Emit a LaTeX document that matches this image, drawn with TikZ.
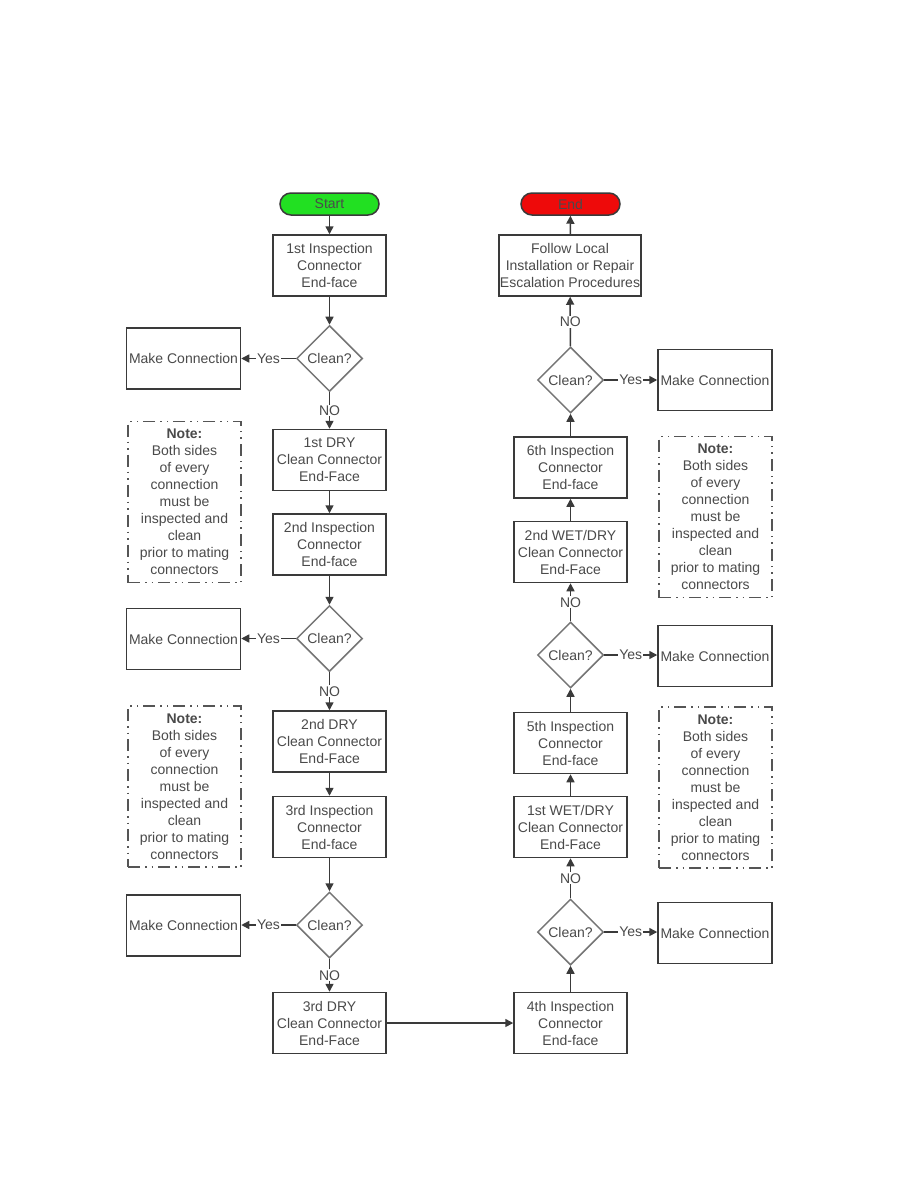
\documentclass[tikz,border=0pt]{standalone}
\usepackage{fontspec}
\setmainfont{Liberation Sans}
\usetikzlibrary{shapes.geometric,arrows.meta}
\definecolor{ln}{HTML}{3A3A3A}
\definecolor{tx}{HTML}{4A4A4A}
\definecolor{startg}{HTML}{22E022}
\definecolor{endr}{HTML}{EE0A0A}
\definecolor{notec}{HTML}{555555}
\tikzset{
  every node/.style={font=\fontsize{14}{17}\selectfont, text=tx},
  box/.style={draw=ln, line width=1.5pt, rectangle, minimum width=113pt, minimum height=61pt, align=center, inner sep=1pt, fill=white},
  widebox/.style={box, minimum width=142pt},
  mkbox/.style={box, minimum width=114pt, minimum height=61pt},
  dia/.style={draw=ln!70, line width=1.5pt, diamond, minimum width=66pt, minimum height=66pt, inner sep=0pt, aspect=1},
  pill/.style={draw=ln, line width=1.5pt, rounded corners=11pt, minimum width=99pt, minimum height=22pt, inner sep=0pt},
  notebox/.style={draw=notec, line width=1.6pt, dash pattern=on 12pt off 5pt on 1.5pt off 5pt on 1.5pt off 5pt, minimum width=113pt, minimum height=161pt, align=center, inner sep=1pt},
  arr/.style={draw=ln, line width=1.5pt, -{Triangle[length=8pt,width=8pt]}},
  lab/.style={fill=white, inner sep=1pt},
}
\newcommand{\notetext}{\textbf{Note:}\\Both sides\\of every\\connection\\must be\\inspected and\\clean\\prior to mating\\connectors}
\begin{document}
\begin{tikzpicture}[x=1pt,y=-1pt]
\useasboundingbox[fill=white] (0,0) rectangle (918,1188);
% left column
\node[pill, fill=startg] (start) at (329.5,204) {Start};
\node[box] (i1) at (329.5,265.5) {1st Inspection\\Connector\\End-face};
\node[dia] (d1) at (329.5,358.5) {Clean?};
\node[mkbox] (m1) at (183.5,358.5) {Make Connection};
\node[box] (c1) at (329.5,460) {1st DRY\\Clean Connector\\End-Face};
\node[box] (i2) at (329.5,544.5) {2nd Inspection\\Connector\\End-face};
\node[dia] (d2) at (329.5,638.5) {Clean?};
\node[mkbox] (m2) at (183.5,639) {Make Connection};
\node[box] (c2) at (329.5,741.5) {2nd DRY\\Clean Connector\\End-Face};
\node[box] (i3) at (329.5,827) {3rd Inspection\\Connector\\End-face};
\node[dia] (d3) at (329.5,925) {Clean?};
\node[mkbox] (m3) at (183.5,925.5) {Make Connection};
\node[box] (c3) at (329.5,1023) {3rd DRY\\Clean Connector\\End-Face};
\node[notebox] (n1) at (184.5,502) {\notetext};
\node[notebox] (n2) at (184.5,786.5) {\notetext};
% right column
\node[pill, fill=endr] (end) at (570.5,204) {End};
\node[widebox] (fl) at (570,265.5) {Follow Local\\Installation or Repair\\Escalation Procedures};
\node[dia] (r1) at (570.5,380) {Clean?};
\node[mkbox] (rm1) at (715,380) {Make Connection};
\node[box] (i6) at (570.5,467.5) {6th Inspection\\Connector\\End-face};
\node[box] (w2) at (570.5,552) {2nd WET/DRY\\Clean Connector\\End-Face};
\node[dia] (r2) at (570.5,655) {Clean?};
\node[mkbox] (rm2) at (715,656) {Make Connection};
\node[box] (i5) at (570.5,743) {5th Inspection\\Connector\\End-face};
\node[box] (w1) at (570.5,827) {1st WET/DRY\\Clean Connector\\End-Face};
\node[dia] (r3) at (570.5,932) {Clean?};
\node[mkbox] (rm3) at (715,933) {Make Connection};
\node[box] (i4) at (570.5,1023) {4th Inspection\\Connector\\End-face};
\node[notebox] (n3) at (715.5,517) {\notetext};
\node[notebox] (n4) at (715.5,787.5) {\notetext};
% left connectors
\draw[arr] (start) -- (i1);
\draw[arr] (i1) -- (d1);
\draw[arr] (d1) -- node[lab]{Yes} (m1);
\draw[arr] (d1) -- node[lab, pos=0.5]{NO} (c1);
\draw[arr] (c1) -- (i2);
\draw[arr] (i2) -- (d2);
\draw[arr] (d2) -- node[lab]{Yes} (m2.east |- d2);
\draw[arr] (d2) -- node[lab]{NO} (c2);
\draw[arr] (c2) -- (i3);
\draw[arr] (i3) -- (d3);
\draw[arr] (d3) -- node[lab]{Yes} (m3.east |- d3);
\draw[arr] (d3) -- node[lab]{NO} (c3);
\draw[arr] (c3) -- (i4);
% right connectors
\draw[arr] (i4) -- (r3);
\draw[arr] (r3) -- node[lab]{Yes} (rm3.west |- r3);
\draw[arr] (r3) -- node[lab]{NO} (w1);
\draw[arr] (w1) -- (i5);
\draw[arr] (i5) -- (r2);
\draw[arr] (r2) -- node[lab]{Yes} (rm2.west |- r2);
\draw[arr] (r2) -- node[lab]{NO} (w2);
\draw[arr] (w2) -- (i6);
\draw[arr] (i6) -- (r1);
\draw[arr] (r1) -- node[lab]{Yes} (rm1);
\draw[arr] (r1) -- node[lab]{NO} (fl);
\draw[arr] (fl) -- (end);
\end{tikzpicture}
\end{document}
